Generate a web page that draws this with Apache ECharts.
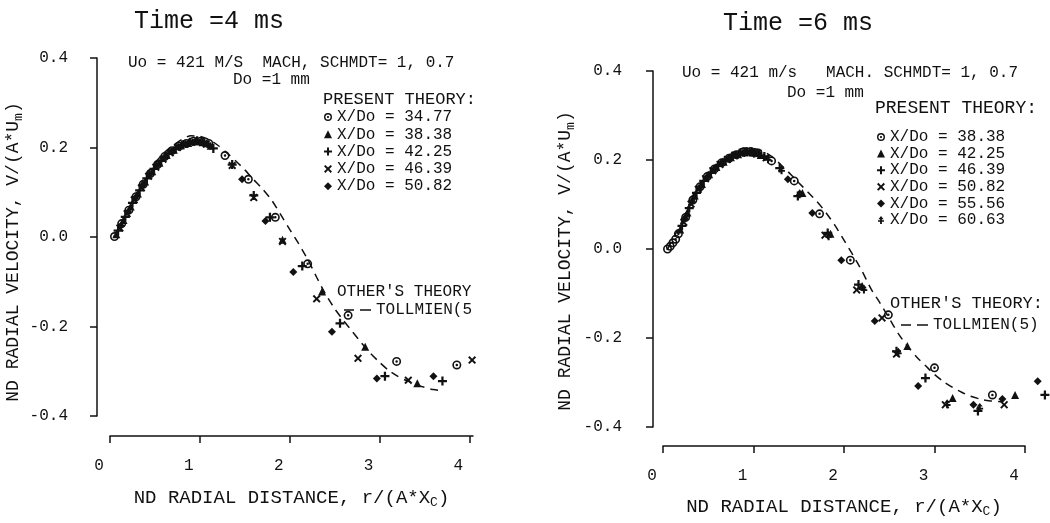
<!DOCTYPE html>
<html><head><meta charset="utf-8">
<script src="https://cdn.jsdelivr.net/npm/echarts@6/dist/echarts.min.js"></script>
<style>html,body{margin:0;padding:0;background:#fff}#c{width:1050px;height:523px}</style>
</head><body><div id="c"></div>
<script>
// ---------- tick labels ----------
const xTicks = [0, 1, 2, 3, 4];
const yTicks = [-0.4, -0.2, 0, 0.2, 0.4];

// ---------- left panel: Time = 4 ms ----------
const leftLabels = ['34.77', '38.38', '42.25', '46.39', '50.82'];
const left_3477 = [[0.05,0.001],[0.13,0.030],[0.21,0.060],[0.29,0.090],[0.37,0.118],[0.45,0.142],[0.53,0.162],[0.61,0.180],[0.69,0.193],[0.77,0.203],[0.85,0.209],[0.93,0.214],[1.01,0.214],[1.10,0.209],[1.28,0.182],[1.54,0.129],[1.84,0.044],[2.20,-0.060],[2.65,-0.175],[3.19,-0.278],[3.86,-0.286]];
const left_3838 = [[0.07,0.006],[0.15,0.038],[0.23,0.068],[0.31,0.097],[0.39,0.124],[0.47,0.147],[0.55,0.166],[0.63,0.183],[0.71,0.195],[0.79,0.205],[0.87,0.210],[0.95,0.214],[1.03,0.212],[1.12,0.204],[1.92,-0.006],[2.36,-0.122],[2.84,-0.245],[3.42,-0.327]];
const left_4225 = [[0.09,0.014],[0.17,0.045],[0.25,0.076],[0.33,0.104],[0.41,0.131],[0.49,0.152],[0.57,0.170],[0.65,0.186],[0.73,0.197],[0.81,0.206],[0.89,0.212],[0.97,0.215],[1.05,0.210],[1.15,0.198],[1.36,0.162],[1.60,0.093],[1.78,0.044],[2.14,-0.065],[2.56,-0.193],[3.06,-0.311],[3.70,-0.322]];
const left_4639 = [[0.11,0.020],[0.19,0.052],[0.27,0.083],[0.35,0.110],[0.43,0.136],[0.51,0.156],[0.59,0.174],[0.67,0.188],[0.75,0.200],[0.83,0.207],[0.91,0.212],[0.99,0.214],[1.07,0.208],[1.36,0.160],[1.60,0.088],[1.92,-0.010],[2.30,-0.138],[2.76,-0.271],[3.32,-0.320],[4.03,-0.275]];
const left_5082 = [[0.12,0.025],[0.20,0.056],[0.28,0.087],[0.36,0.114],[0.44,0.139],[0.52,0.160],[0.60,0.177],[0.68,0.191],[0.76,0.201],[0.84,0.208],[0.92,0.212],[1.00,0.212],[1.08,0.207],[1.47,0.129],[1.73,0.036],[2.04,-0.078],[2.47,-0.212],[2.97,-0.316],[3.60,-0.311]];
const leftTollmien = [[0.05,0.000],[0.2,0.06],[0.4,0.138],[0.6,0.188],[0.8,0.218],[0.9,0.226],[1.0,0.225],[1.1,0.218],[1.2,0.205],[1.3,0.188],[1.4,0.17],[1.5,0.15],[1.6,0.128],[1.7,0.107],[1.8,0.082],[1.9,0.05],[2.0,0.017],[2.1,-0.015],[2.2,-0.05],[2.3,-0.09],[2.4,-0.128],[2.5,-0.16],[2.6,-0.187],[2.7,-0.212],[2.8,-0.237],[2.9,-0.26],[3.0,-0.28],[3.1,-0.298],[3.2,-0.311],[3.3,-0.321],[3.4,-0.329],[3.5,-0.336],[3.6,-0.341],[3.72,-0.344]];

// ---------- right panel: Time = 6 ms ----------
const rightLabels = ['38.38', '42.25', '46.39', '50.82', '55.56', '60.63'];
const right_3838 = [[0.05,0.000],[0.08,0.006],[0.11,0.014],[0.14,0.022],[0.17,0.034],[0.25,0.071],[0.33,0.110],[0.41,0.140],[0.49,0.163],[0.57,0.180],[0.65,0.194],[0.73,0.204],[0.81,0.212],[0.89,0.218],[0.97,0.219],[1.05,0.216],[1.20,0.198],[1.45,0.153],[1.73,0.079],[2.07,-0.025],[2.49,-0.148],[3.00,-0.267],[3.64,-0.328]];
const right_4225 = [[0.19,0.044],[0.27,0.082],[0.35,0.120],[0.43,0.146],[0.51,0.168],[0.59,0.184],[0.67,0.196],[0.75,0.206],[0.83,0.213],[0.91,0.219],[0.99,0.217],[1.08,0.211],[1.54,0.126],[1.85,0.034],[2.20,-0.083],[2.70,-0.218],[3.20,-0.335],[3.89,-0.328]];
const right_4639 = [[0.21,0.052],[0.29,0.092],[0.37,0.126],[0.45,0.153],[0.53,0.171],[0.61,0.187],[0.69,0.199],[0.77,0.209],[0.85,0.216],[0.93,0.218],[1.01,0.216],[1.12,0.208],[1.29,0.182],[1.49,0.119],[1.82,0.036],[2.16,-0.080],[2.58,-0.230],[2.90,-0.290],[3.48,-0.364],[4.22,-0.328]];
const right_5082 = [[0.23,0.060],[0.31,0.101],[0.39,0.134],[0.47,0.158],[0.55,0.176],[0.63,0.190],[0.71,0.201],[0.79,0.210],[0.87,0.216],[0.95,0.219],[1.03,0.214],[1.14,0.205],[1.79,0.031],[2.14,-0.092],[2.42,-0.155],[2.58,-0.236],[3.12,-0.350],[3.77,-0.350]];
const right_5556 = [[0.24,0.068],[0.32,0.106],[0.40,0.137],[0.48,0.160],[0.56,0.178],[0.64,0.192],[0.72,0.203],[0.80,0.211],[0.88,0.216],[0.96,0.217],[1.04,0.215],[1.38,0.157],[1.65,0.081],[1.97,-0.025],[2.34,-0.162],[2.82,-0.308],[3.43,-0.350],[3.75,-0.337],[4.14,-0.297]];
const right_6063 = [[0.26,0.076],[0.34,0.116],[0.42,0.143],[0.50,0.165],[0.58,0.182],[0.66,0.195],[0.74,0.205],[0.82,0.212],[0.90,0.217],[0.98,0.218],[1.06,0.213],[1.16,0.203],[1.31,0.178],[1.51,0.124],[1.83,0.030],[2.22,-0.090],[2.60,-0.232],[3.14,-0.348],[3.50,-0.356]];
const rightTollmien = [[0.05,0],[0.2,0.058],[0.4,0.138],[0.6,0.19],[0.8,0.219],[0.9,0.227],[1.0,0.226],[1.1,0.22],[1.2,0.208],[1.3,0.19],[1.4,0.17],[1.5,0.149],[1.6,0.128],[1.7,0.107],[1.8,0.082],[1.9,0.053],[2.0,0.02],[2.1,-0.014],[2.2,-0.05],[2.3,-0.09],[2.4,-0.122],[2.5,-0.156],[2.6,-0.19],[2.7,-0.218],[2.8,-0.242],[2.9,-0.262],[3.0,-0.282],[3.1,-0.298],[3.2,-0.311],[3.3,-0.322],[3.4,-0.331],[3.5,-0.337],[3.6,-0.341],[3.75,-0.343]];

// ---------- styling ----------
const FONT = '"Liberation Mono", "DejaVu Sans Mono", monospace';
const INK = '#111';
const SYM = {
  dotCircle: 'path://M0,-5A5,5 0 1,1 0,5A5,5 0 1,1 0,-5Z M0,-3.2A3.2,3.2 0 1,0 0,3.2A3.2,3.2 0 1,0 0,-3.2Z M0,-1.4A1.4,1.4 0 1,1 0,1.4A1.4,1.4 0 1,1 0,-1.4Z',
  tri: 'triangle',
  plus: 'path://M-4,-1H4V1H-4Z M-1,-4H1V4H-1Z',
  cross: 'path://M-3.5,-2.3L-2.3,-3.5L0,-1.2L2.3,-3.5L3.5,-2.3L1.2,0L3.5,2.3L2.3,3.5L0,1.2L-2.3,3.5L-3.5,2.3L-1.2,0Z',
  diamond: 'diamond',
  spade: 'path://M0,-4L2.6,-0.8L0.9,-0.8L0.9,4L-0.9,4L-0.9,-0.8L-2.6,-0.8Z M-3,0.2H3V1.8H-3Z'
};
const SIZE = {dotCircle: 9, tri: 8, plus: 9, cross: 8, diamond: 8, spade: 9};
const DASH_ICON = 'path://M0,0H10V1.6H0Z M16,0H27V1.6H16Z';

const leftSets = [left_3477, left_3838, left_4225, left_4639, left_5082];
const leftSyms = ['dotCircle', 'tri', 'plus', 'cross', 'diamond'];
const rightSets = [right_3838, right_4225, right_4639, right_5082, right_5556, right_6063];
const rightSyms = ['dotCircle', 'tri', 'plus', 'cross', 'diamond', 'spade'];

function scatter(name, data, sym, gi) {
  return {type: 'scatter', name, data, xAxisIndex: gi, yAxisIndex: gi,
    symbol: SYM[sym], symbolSize: SIZE[sym], symbolKeepAspect: true, clip: false,
    itemStyle: {color: INK, opacity: 1}, emphasis: {disabled: true}, z: 3};
}
function dashLine(name, data, gi) {
  return {type: 'line', name, data, xAxisIndex: gi, yAxisIndex: gi, symbol: 'none', smooth: 0.25,
    lineStyle: {color: INK, width: 1.5, type: [8, 6]}, itemStyle: {color: INK}, z: 2, silent: true};
}

const series = [];
leftSets.forEach((d, i) => series.push(scatter('L' + leftLabels[i], d, leftSyms[i], 0)));
series.push(dashLine('TOLLMIEN(5', leftTollmien, 0));
rightSets.forEach((d, i) => series.push(scatter('R' + rightLabels[i], d, rightSyms[i], 1)));
series.push(dashLine('TOLLMIEN(5)', rightTollmien, 1));

const axisLineStyle = {color: INK, width: 1.5};
const labelText = {fontFamily: FONT, fontSize: 16, color: INK};
const rich = {
  b: {fontFamily: FONT, fontSize: 18, color: INK},
  sub: {fontFamily: FONT, fontSize: 13, color: INK, padding: [10, 0, 0, 0]}
};
const richX = {
  b: {fontFamily: FONT, fontSize: 19, color: INK},
  sub: {fontFamily: FONT, fontSize: 13, color: INK, padding: [10, 0, 0, 0]}
};

function xAxis(gi, max, offset, nameGap) {
  return {gridIndex: gi, type: 'value', min: 0, max, offset,
    axisLine: {onZero: false, lineStyle: axisLineStyle},
    axisTick: {customValues: xTicks, length: 7, lineStyle: axisLineStyle},
    axisLabel: {customValues: xTicks, margin: 22, padding: [0, 22, 0, 0], formatter: v => String(Math.round(v)), ...labelText},
    splitLine: {show: false},
    name: '{b|ND RADIAL DISTANCE, r/(A*X}{sub|C}{b|)}', nameLocation: 'middle', nameGap,
    nameTextStyle: {rich: richX}};
}
function yAxis(gi, offset, margin, nameGap, shift) {
  return {gridIndex: gi, type: 'value', min: -0.4, max: 0.4, interval: 0.2, offset,
    axisLine: {onZero: false, lineStyle: axisLineStyle},
    axisTick: {customValues: yTicks, length: 7, lineStyle: axisLineStyle},
    axisLabel: {customValues: yTicks, margin, formatter: v => (Math.abs(v) < 1e-9 ? 0 : v).toFixed(1), ...labelText},
    splitLine: {show: false},
    name: '{b|ND RADIAL VELOCITY, V/(A*U}{sub|m}{b|)}', nameLocation: 'middle', nameGap, nameRotate: 90,
    nameTextStyle: {rich, padding: [0, shift, 0, 0]}};
}

function txt(x, y, text, size, align) {
  return {type: 'text', x, y, silent: true,
    style: {text, font: size + 'px ' + FONT, fill: INK, align: align || 'left', textAlign: align || 'left',
      verticalAlign: 'middle', textVerticalAlign: 'middle'}};
}

const legendText = {fontFamily: FONT, fontSize: 16, color: INK, lineHeight: 16};
const option = {
  backgroundColor: '#fff',
  animation: false,
  grid: [
    {left: 110, top: 58, width: 363, height: 358},
    {left: 663, top: 71, width: 362, height: 358}
  ],
  xAxis: [xAxis(0, 4.04, 20, 50), xAxis(1, 4, 19, 49)],
  yAxis: [yAxis(0, 13, 29, 72, 30), yAxis(1, 10, 31, 76, 24)],
  legend: [
    {left: 324, top: 109, orient: 'vertical', padding: 0, itemWidth: 8, itemHeight: 8, itemGap: 1.3, selectedMode: false,
      data: leftLabels.map(n => 'L' + n), formatter: n => 'X/Do = ' + n.slice(1), textStyle: legendText},
    {left: 344, top: 302, padding: 0, itemWidth: 27, itemHeight: 1.6, selectedMode: false, icon: DASH_ICON,
      itemStyle: {color: INK}, data: ['TOLLMIEN(5'], textStyle: legendText},
    {left: 877, top: 129, orient: 'vertical', padding: 0, itemWidth: 8, itemHeight: 8, itemGap: 0.6, selectedMode: false,
      data: rightLabels.map(n => 'R' + n), formatter: n => 'X/Do = ' + n.slice(1), textStyle: Object.assign({}, legendText, {lineHeight: 15})},
    {left: 901, top: 317, padding: 0, itemWidth: 27, itemHeight: 1.6, selectedMode: false, icon: DASH_ICON,
      itemStyle: {color: INK}, data: ['TOLLMIEN(5)'], textStyle: legendText}
  ],
  graphic: [
    txt(209, 21, 'Time =4 ms', 25, 'center'),
    txt(128, 63, 'Uo = 421 M/S  MACH, SCHMDT= 1, 0.7', 16),
    txt(233, 80, 'Do =1 mm', 16),
    txt(323, 99, 'PRESENT THEORY:', 17),
    txt(337, 292, "OTHER'S THEORY", 16),
    txt(798, 23, 'Time =6 ms', 25, 'center'),
    txt(682, 73, 'Uo = 421 m/s   MACH. SCHMDT= 1, 0.7', 16),
    txt(787, 93, 'Do =1 mm', 16),
    txt(875, 108, 'PRESENT THEORY:', 18),
    txt(890, 303, "OTHER'S THEORY:", 17)
  ],
  series
};
const chart = echarts.init(document.getElementById('c'), null, {renderer: 'canvas'});
chart.setOption(option);
</script>
</body></html>
